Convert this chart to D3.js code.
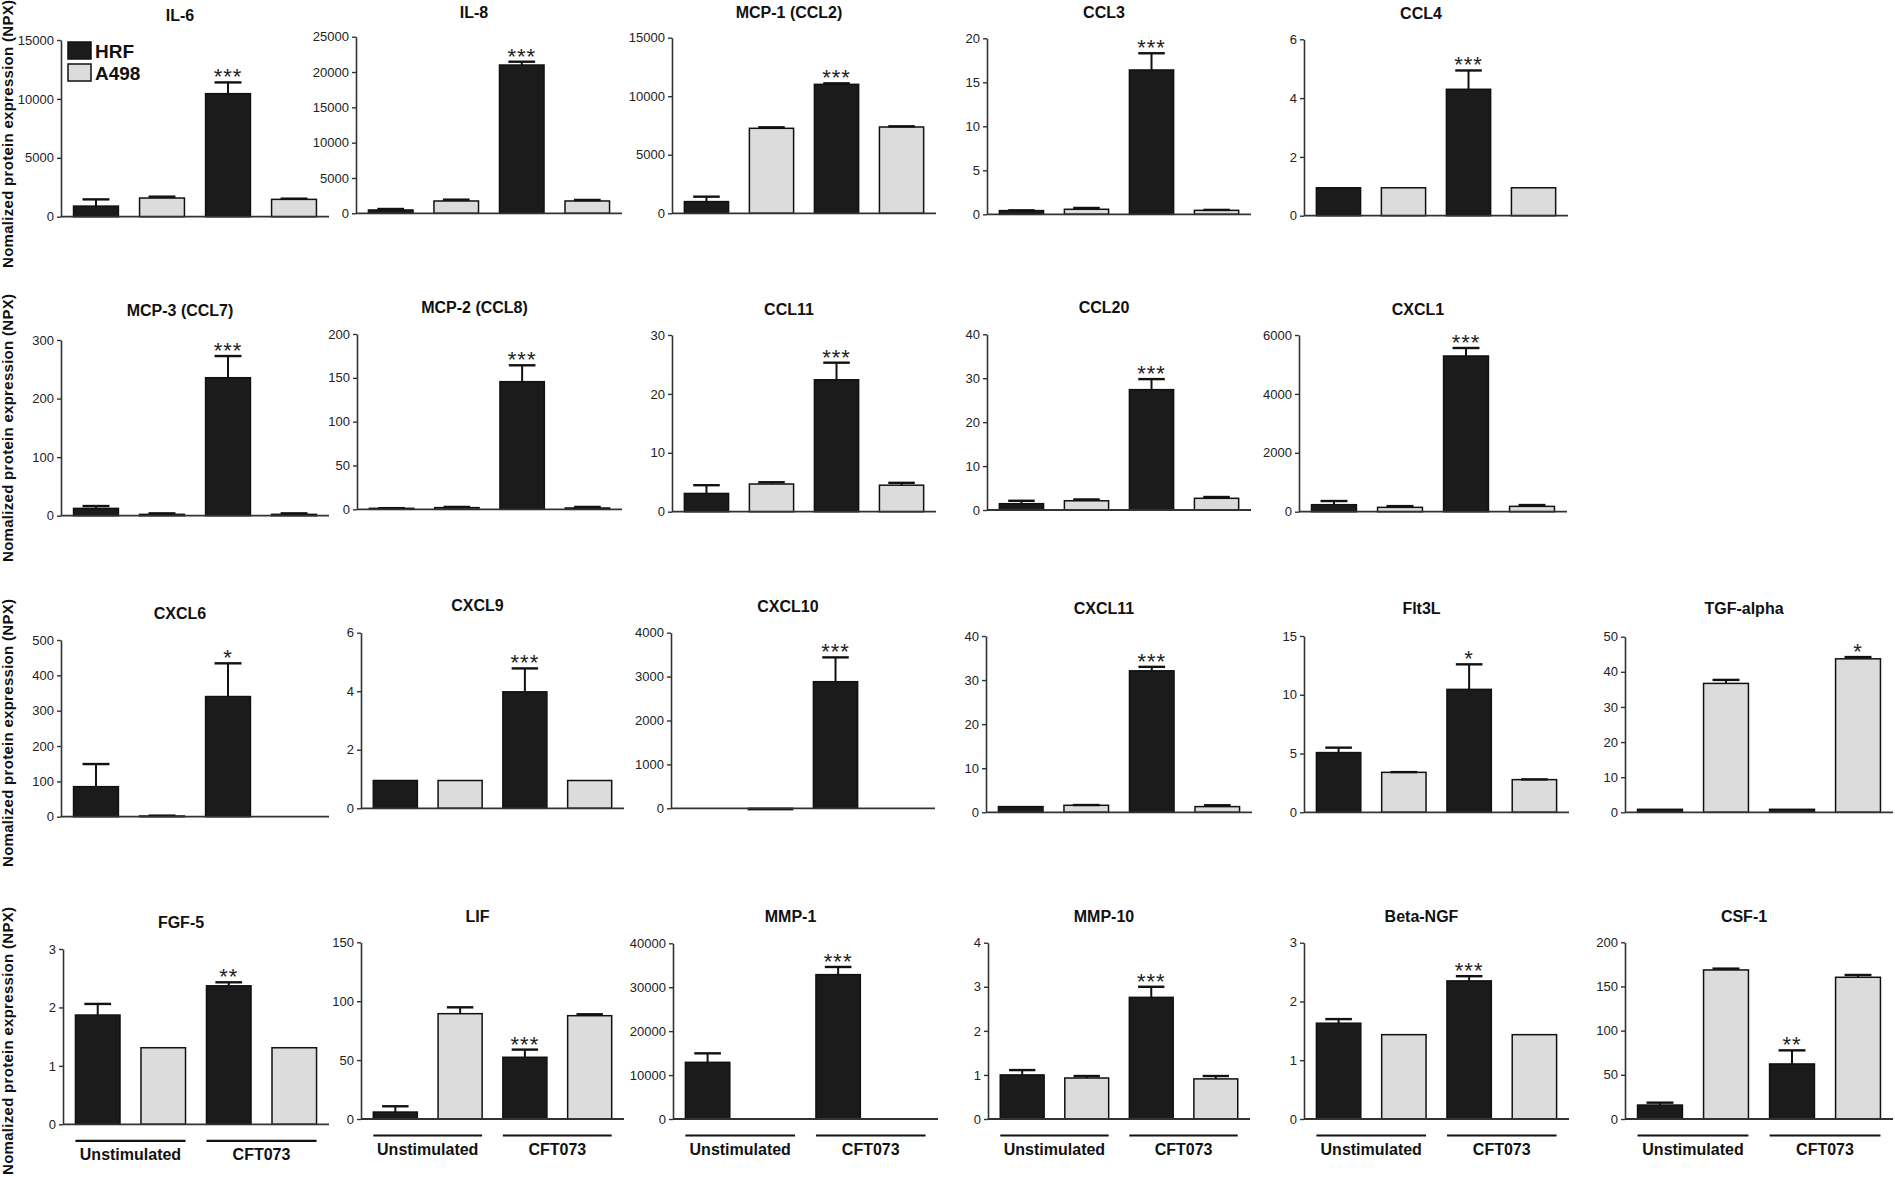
<!DOCTYPE html>
<html>
<head>
<meta charset="utf-8">
<script src="https://cdn.jsdelivr.net/npm/d3@7"></script>
<style>
  html, body { margin: 0; padding: 0; background: #fff; }
  svg { display: block; }
  .tick text { font-family: "Liberation Sans Narrow", "Arial Narrow", "Liberation Sans", Arial, sans-serif; font-size: 13px; fill: #222; }
</style>
</head>
<body>
<svg id="chart" width="1895" height="1177"></svg>
<script>
// ---------------- DATA ----------------
const panelNames = ["IL-6", "IL-8", "MCP-1 (CCL2)", "CCL3", "CCL4",
  "MCP-3 (CCL7)", "MCP-2 (CCL8)", "CCL11", "CCL20", "CXCL1",
  "CXCL6", "CXCL9", "CXCL10", "CXCL11", "Flt3L", "TGF-alpha",
  "FGF-5", "LIF", "MMP-1", "MMP-10", "Beta-NGF", "CSF-1"];
const cellLines = ["HRF", "A498"];
const conditions = ["Unstimulated", "CFT073"];
const yAxisLabel = "Nomalized protein expression (NPX)";

// means
const hrfUnstim  = [900, 470, 1000, 0.42, 0.95, 12.5, 1.1, 3.1, 1.44, 238, 85, 0.95, 0, 1.29, 5.08, 0.85, 1.87, 5.9, 12900, 1.0, 1.63, 15.8];
const a498Unstim = [1585, 1745, 7260, 0.57, 0.95, 2.3, 1.9, 4.7, 2.1, 147, 2, 0.95, -30, 1.59, 3.40, 36.7, 1.31, 89.4, 0, 0.93, 1.435, 168.7];
const hrfCft     = [10444, 20990, 11016, 16.4, 4.30, 235.6, 145.6, 22.4, 27.4, 5287, 340, 3.98, 2884, 32.1, 10.46, 0.85, 2.37, 52.4, 32865, 2.76, 2.35, 62.3];
const a498Cft    = [1472, 1745, 7372, 0.45, 0.95, 2.3, 1.5, 4.5, 2.66, 181, 0, 0.95, 0, 1.29, 2.78, 43.7, 1.31, 87.7, 0, 0.91, 1.435, 160.4];
// upper end of error bars (mean + SEM)
const hrfUnstimHi  = [1470, 610, 1420, 0.45, 0.95, 16.5, 1.3, 4.5, 2.1, 362, 149, 0.95, 0, 1.29, 5.5, 0.85, 2.06, 10.8, 14950, 1.11, 1.70, 18.5];
const a498UnstimHi = [1700, 1930, 7345, 0.72, 0.95, 4, 2.7, 5.0, 2.4, 190, 3, 0.95, -30, 1.65, 3.42, 37.7, 1.31, 94.8, 0, 0.975, 1.435, 170.2];
const hrfCftHi     = [11400, 21460, 11100, 18.3, 4.94, 272.6, 164.3, 25.3, 29.8, 5559, 434, 4.78, 3438, 33.0, 12.59, 0.85, 2.43, 58.9, 34611, 3.0, 2.43, 77.7];
const a498CftHi    = [1530, 1890, 7430, 0.5, 0.95, 4, 2.7, 4.9, 2.96, 226, 0, 0.95, 0, 1.6, 2.8, 44.2, 1.31, 88.9, 0, 0.975, 1.435, 163];
// axis
const yMax  = [15000, 25000, 15000, 20, 6, 300, 200, 30, 40, 6000, 500, 6, 4000, 40, 15, 50, 3, 150, 40000, 4, 3, 200];
const yStep = [5000, 5000, 5000, 5, 2, 100, 50, 10, 10, 2000, 100, 2, 1000, 10, 5, 10, 1, 50, 10000, 1, 1, 50];
// significance
const starText = ["***", "***", "***", "***", "***", "***", "***", "***", "***", "***",
  "*", "***", "***", "***", "*", "*", "**", "***", "***", "***", "***", "**"];
const starBar  = [2, 2, 2, 2, 2, 2, 2, 2, 2, 2, 2, 2, 2, 2, 2, 3, 2, 2, 2, 2, 2, 2];

// ---------------- LAYOUT ----------------
// [axisX, axisEnd, topY, baseY, titleCenterY]
const layout = [
  [61, 329, 40, 216.7, 15], [356, 622, 36.7, 213.3, 12], [672, 936, 37.7, 213.3, 12], [987, 1251, 38.3, 214.3, 12], [1304, 1568, 39.3, 215.7, 13],
  [61, 329, 340, 515.7, 310], [357, 622, 334, 509.3, 307], [672, 936, 335, 511.7, 309], [987, 1251, 334.3, 510, 307], [1299, 1567, 335, 511.7, 309],
  [61, 329, 640, 816.7, 613], [361, 624, 632.7, 808.3, 605], [671, 935, 632.7, 808.3, 606], [986, 1252, 636, 812.3, 608], [1304, 1569, 636, 812.3, 608], [1625, 1893, 636.7, 812.3, 608],
  [63, 329, 949, 1124.3, 922], [361, 624, 942.3, 1119, 916], [673, 938, 943.3, 1119, 916], [988, 1250, 942.7, 1119, 916], [1304, 1569, 942.7, 1119, 916], [1625, 1893, 942.3, 1119, 916]
];
const groupRowStart = 16;
const yLabelCenters = [134, 428, 733, 1041];

const barKeys = ["HRF|Unstimulated", "A498|Unstimulated", "HRF|CFT073", "A498|CFT073"];
const fillFor = { HRF: "#1b1b1b", A498: "#dcdcdc" };

const svg = d3.select("#chart");
const axisColor = "#333";
const fontMain = "'Liberation Sans', Arial, sans-serif";

panelNames.forEach((name, i) => {
  const [x0, x1, top, base, titleY] = layout[i];
  const means = [hrfUnstim[i], a498Unstim[i], hrfCft[i], a498Cft[i]];
  const highs = [hrfUnstimHi[i], a498UnstimHi[i], hrfCftHi[i], a498CftHi[i]];
  const bars = barKeys.map((k, j) => ({ key: k, line: k.split("|")[0], cond: k.split("|")[1], v: means[j], hi: highs[j] }));

  const x = d3.scaleBand().domain(barKeys).range([x0, x1]).paddingInner(0.32).paddingOuter(0.19);
  const y = d3.scaleLinear().domain([0, yMax[i]]).range([base, top]);

  const g = svg.append("g");

  // title
  g.append("text")
    .attr("x", (x0 + x1) / 2 - 15).attr("y", titleY + 5.7)
    .attr("text-anchor", "middle")
    .style("font-family", fontMain).style("font-weight", "bold").style("font-size", "16px").style("fill", "#111")
    .text(name);

  // y axis
  const ticks = d3.range(0, yMax[i] + yStep[i] / 2, yStep[i]);
  const yAxis = d3.axisLeft(y).tickValues(ticks).tickSize(4).tickSizeOuter(0).tickPadding(3).tickFormat(d3.format("d"));
  const ga = g.append("g").attr("transform", `translate(${x0},0)`).call(yAxis);
  ga.select(".domain").attr("stroke", axisColor).attr("stroke-width", 1.6);
  ga.selectAll(".tick line").attr("stroke", axisColor).attr("stroke-width", 1.4);

  // bars
  g.selectAll("rect.bar").data(bars).join("rect")
    .attr("class", "bar")
    .attr("x", d => x(d.key))
    .attr("width", x.bandwidth())
    .attr("y", d => Math.min(y(d.v), y(0)))
    .attr("height", d => Math.abs(y(0) - y(d.v)))
    .attr("fill", d => fillFor[d.line])
    .attr("stroke", "#111").attr("stroke-width", 1.5);

  // error bars (upper)
  const eb = bars.filter(d => d.hi > d.v);
  const capW = x.bandwidth() * 0.6;
  g.selectAll("line.err").data(eb).join("line")
    .attr("x1", d => x(d.key) + x.bandwidth() / 2).attr("x2", d => x(d.key) + x.bandwidth() / 2)
    .attr("y1", d => y(d.v)).attr("y2", d => y(d.hi))
    .attr("stroke", "#111").attr("stroke-width", 2);
  g.selectAll("line.cap").data(eb).join("line")
    .attr("x1", d => x(d.key) + x.bandwidth() / 2 - capW / 2).attr("x2", d => x(d.key) + x.bandwidth() / 2 + capW / 2)
    .attr("y1", d => y(d.hi)).attr("y2", d => y(d.hi))
    .attr("stroke", "#111").attr("stroke-width", 2.4);

  // x axis baseline
  g.append("line").attr("x1", x0).attr("x2", x1).attr("y1", y(0)).attr("y2", y(0))
    .attr("stroke", axisColor).attr("stroke-width", 1.8);

  // significance
  const sb = bars[starBar[i]];
  g.append("text")
    .attr("x", x(sb.key) + x.bandwidth() / 2)
    .attr("y", y(Math.max(sb.hi, sb.v)) + 2)
    .attr("text-anchor", "middle")
    .style("font-family", fontMain).style("font-size", "22px").style("letter-spacing", "1px").style("fill", "#222")
    .text(starText[i]);

  // group labels for the bottom row
  if (i >= groupRowStart) {
    conditions.forEach((c, ci) => {
      const a = x(barKeys[ci * 2]);
      const b = x(barKeys[ci * 2 + 1]) + x.bandwidth();
      g.append("line").attr("x1", a).attr("x2", b).attr("y1", base + 16.5).attr("y2", base + 16.5)
        .attr("stroke", "#111").attr("stroke-width", 2.2);
      g.append("text").attr("x", (a + b) / 2).attr("y", base + 35.5)
        .attr("text-anchor", "middle")
        .style("font-family", fontMain).style("font-weight", "bold").style("font-size", "16px").style("fill", "#111")
        .text(c);
    });
  }

  // legend in the first panel
  if (i === 0) {
    cellLines.forEach((cl, li) => {
      const ly = 42 + li * 22;
      g.append("rect").attr("x", 68).attr("y", ly).attr("width", 23).attr("height", 17)
        .attr("fill", fillFor[cl]).attr("stroke", "#111").attr("stroke-width", 1.5);
      g.append("text").attr("x", 95).attr("y", ly + 15.5)
        .style("font-family", fontMain).style("font-weight", "bold").style("font-size", "19px").style("fill", "#111")
        .text(cl);
    });
  }
});

// row y-axis labels
yLabelCenters.forEach(cy => {
  svg.append("text")
    .attr("transform", `translate(13,${cy}) rotate(-90)`)
    .attr("text-anchor", "middle")
    .attr("textLength", 268).attr("lengthAdjust", "spacing")
    .style("font-family", fontMain).style("font-weight", "bold").style("font-size", "15px").style("fill", "#111")
    .text(yAxisLabel);
});
</script>
</body>
</html>
